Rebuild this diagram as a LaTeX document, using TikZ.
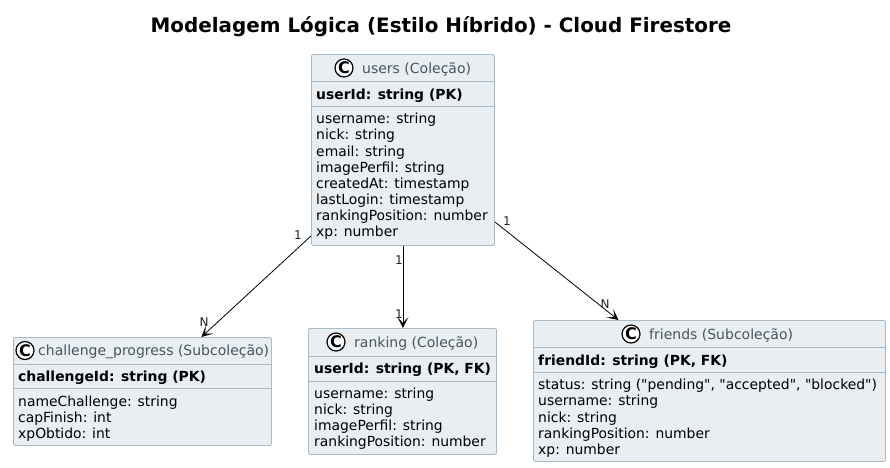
\documentclass[tikz,border=0pt]{standalone}
\usepackage{fontspec}
\setmainfont{DejaVu Sans}
\newfontfamily\plainfont{DejaVu Sans}
\usetikzlibrary{arrows.meta}
\definecolor{boxfill}{HTML}{E9EEF2}
\definecolor{boxline}{HTML}{A9BAC5}
\definecolor{headtext}{HTML}{47555E}
\definecolor{labeltext}{HTML}{222222}
\tikzset{
  classbox/.style={draw=boxline,fill=boxfill,line width=0.9pt,rounded corners=2pt,inner sep=0pt,anchor=north west},
  sepline/.style={draw=boxline,line width=0.8pt},
  headlabel/.style={font=\fontsize{14}{15}\selectfont,text=headtext,anchor=base west,inner sep=0pt},
  pklabel/.style={font=\fontsize{13.9}{15}\selectfont\bfseries,text=black,anchor=base west,inner sep=0pt},
  fieldlabel/.style={font=\fontsize{13.9}{16.15}\selectfont,text=black,anchor=north west,inner sep=0pt,align=left},
  spot/.style={circle,draw=black,fill=white,line width=1.2pt,minimum size=18pt,inner sep=0pt,font=\fontsize{16}{16}\selectfont\bfseries,text=black},
  link/.style={draw=black,line width=0.8pt,-{Stealth[length=11pt,width=11pt,inset=6pt]}},
  endlabel/.style={font=\fontsize{12}{12}\selectfont,text=labeltext,inner sep=0pt},
}
\begin{document}
\begin{tikzpicture}[x=1pt,y=-1pt]
\useasboundingbox (0,0) rectangle (890,467);
\node[font=\fontsize{19.9}{22}\selectfont\bfseries,inner sep=0pt,anchor=base] (title) at (441,32) {Modelagem Lógica (Estilo Híbrido) - Cloud Firestore};

% users
\node[classbox,minimum width=183pt,minimum height=191pt] (users) at (311,54) {};
\path[sepline] (311,81.5) -- (494,81.5) (311,106) -- (494,106);
\node[spot] (usersC) at (344,68) {C};
\node[headlabel] (usersH) at (362,73) {users (Coleção)};
\node[pklabel] (usersK) at (316,99) {userId: string (PK)};
\node[fieldlabel] (usersF) at (316,113) {username: string\\nick: string\\email: string\\imagePerfil: string\\createdAt: timestamp\\lastLogin: timestamp\\rankingPosition: number\\xp: number};

% challenge_progress
\node[classbox,minimum width=258pt,minimum height=108pt] (chal) at (13,337) {};
\path[sepline] (13,364) -- (271,364) (13,388) -- (271,388);
\node[spot] (chalC) at (25,350.5) {C};
\node[headlabel] (chalH) at (38,355.5) {challenge\_progress (Subcoleção)};
\node[pklabel] (chalK) at (18,381.5) {challengeId: string (PK)};
\node[fieldlabel] (chalF) at (18,395.5) {nameChallenge: string\\capFinish: int\\xpObtido: int};

% ranking
\node[classbox,minimum width=188pt,minimum height=126pt] (rank) at (308,328) {};
\path[sepline] (308,356) -- (496,356) (308,381) -- (496,381);
\node[spot] (rankC) at (336,342) {C};
\node[headlabel] (rankH) at (354,347) {ranking (Coleção)};
\node[pklabel] (rankK) at (314,373.5) {userId: string (PK, FK)};
\node[fieldlabel] (rankF) at (314,387.5) {username: string\\nick: string\\imagePerfil: string\\rankingPosition: number};

% friends
\node[classbox,minimum width=352pt,minimum height=141pt] (frie) at (533,320) {};
\path[sepline] (533,347) -- (885,347) (533,372) -- (885,372);
\node[spot] (frieC) at (631,334) {C};
\node[headlabel] (frieH) at (649,339) {friends (Subcoleção)};
\node[pklabel] (frieK) at (538,365.5) {friendId: string (PK, FK)};
\node[fieldlabel] (frieF) at (538,379) {{\plainfont status: string ("pending", "accepted", "blocked")}\\username: string\\nick: string\\rankingPosition: number\\xp: number};

% connectors
\draw[link] ([yshift=-86pt]users.west) -- ([xshift=59pt]chal.north);
\draw[link] ([xshift=0pt]users.south) -- ([xshift=0.5pt]rank.north);
\draw[link] ([yshift=-72pt]users.east) -- ([xshift=-91pt]frie.north);

% multiplicities
\node[endlabel] (m1) at (298,235.5) {1};
\node[endlabel] (m2) at (204,322) {N};
\node[endlabel] (m3) at (399,260) {1};
\node[endlabel] (m4) at (399,314) {1};
\node[endlabel] (m5) at (507,221) {1};
\node[endlabel] (m6) at (605,304.5) {N};
\end{tikzpicture}
\end{document}
